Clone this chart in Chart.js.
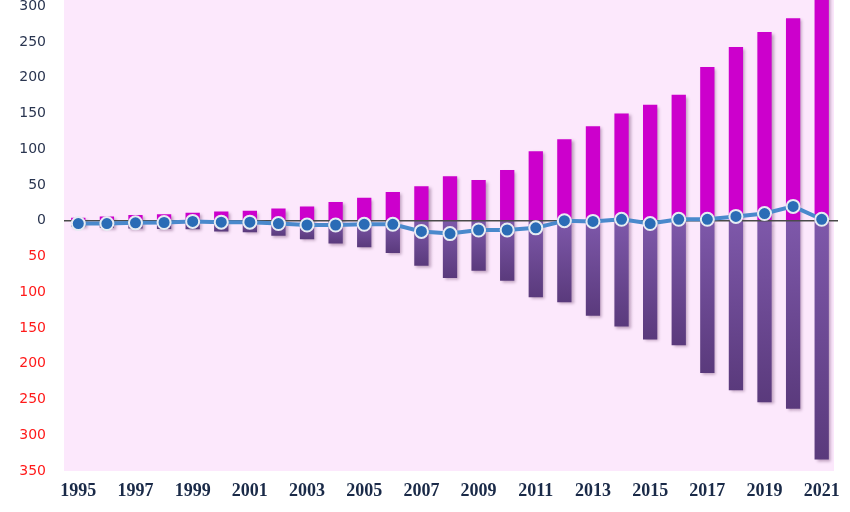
<!DOCTYPE html>
<html>
<head>
<meta charset="utf-8">
<script src="https://cdn.jsdelivr.net/npm/chart.js@4"></script>
<style>
  html, body { margin: 0; padding: 0; background: #ffffff; overflow: hidden; width: 850px; height: 512px; }
  #wrap { position: absolute; left: 0; top: -56px; width: 850px; height: 576px; }
</style>
</head>
<body>
<div id="wrap"><canvas id="c" width="850" height="576"></canvas></div>
<script>
const years = ['1995','1996','1997','1998','1999','2000','2001','2002','2003','2004','2005','2006','2007','2008','2009','2010','2011','2012','2013','2014','2015','2016','2017','2018','2019','2020','2021'];
const positiveValues = [4, 6, 8, 9, 11, 13, 14, 17, 20, 26, 32, 40, 48, 62, 57, 71, 97, 114, 132, 150, 162, 176, 215, 243, 264, 283, 336];
const negativeValues = [-8, -10, -11, -11.5, -12, -15, -16, -21, -26, -32, -37, -45, -63, -80, -70, -84, -107, -114, -133, -148, -166, -174, -213, -237, -254, -263, -334];
const netValues = [-4, -4, -3, -2.5, -1, -2, -2, -4, -6, -6, -5, -5, -15, -18, -13, -13, -10, 0, -1, 2, -4, 2, 2, 6, 10, 20, 2];
const yTickStep = 50;
const yMin = -350, yMax = 350;

const plotBg = {
  id: 'plotBg',
  beforeDraw(chart) {
    const { ctx, chartArea: a } = chart;
    ctx.save();
    ctx.fillStyle = '#fce8fc';
    ctx.fillRect(a.left, a.top, a.right - a.left - 2, a.bottom - a.top);
    ctx.restore();
  },
  beforeDatasetDraw(chart, args) {
    if (args.index < 2) {
      const ctx = chart.ctx;
      ctx.save();
      ctx.shadowColor = 'rgba(70, 20, 70, 0.35)';
      ctx.shadowBlur = 3;
      ctx.shadowOffsetX = 2;
      ctx.shadowOffsetY = 2;
    }
  },
  afterDatasetDraw(chart, args) {
    if (args.index < 2) {
      chart.ctx.restore();
    }
    if (args.index === 1) {
      const { ctx, chartArea: a, scales } = chart;
      const y0 = scales.y.getPixelForValue(0);
      ctx.save();
      ctx.strokeStyle = '#4a4a4a';
      ctx.lineWidth = 1.5;
      ctx.beginPath();
      ctx.moveTo(a.left, y0);
      ctx.lineTo(a.right + 2, y0);
      ctx.stroke();
      ctx.restore();
    }
  }
};

function negGradient(context) {
  const chart = context.chart;
  const { ctx, chartArea, scales } = chart;
  if (!chartArea || context.parsed === undefined) return '#6f4b98';
  const y0 = scales.y.getPixelForValue(0);
  const y1 = scales.y.getPixelForValue(context.parsed.y);
  if (!isFinite(y0) || !isFinite(y1) || Math.abs(y1 - y0) < 1) return '#6f4b98';
  const g = ctx.createLinearGradient(0, y0, 0, y1);
  g.addColorStop(0, '#7e58aa');
  g.addColorStop(1, '#5a3a7c');
  return g;
}

new Chart(document.getElementById('c'), {
  data: {
    labels: years,
    datasets: [
      {
        type: 'bar',
        data: positiveValues,
        backgroundColor: '#cc00cc',
        grouped: false,
        barPercentage: 0.5,
        categoryPercentage: 1.0,
        order: 3
      },
      {
        type: 'bar',
        data: negativeValues,
        backgroundColor: negGradient,
        grouped: false,
        barPercentage: 0.5,
        categoryPercentage: 1.0,
        order: 2
      },
      {
        type: 'line',
        data: netValues,
        borderColor: '#4a89cc',
        borderWidth: 4,
        tension: 0,
        pointRadius: 6.5,
        pointHoverRadius: 6.5,
        pointBackgroundColor: '#2a6cb6',
        pointBorderColor: '#e6ecf2',
        pointBorderWidth: 2,
        order: 1
      }
    ]
  },
  options: {
    responsive: false,
    animation: false,
    events: [],
    layout: { padding: { top: 12, right: 14, left: 0, bottom: 0 } },
    plugins: { legend: { display: false }, tooltip: { enabled: false } },
    scales: {
      x: {
        offset: true,
        grid: { display: false, drawTicks: false },
        border: { display: false },
        afterFit(scale) { scale.height = 49; },
        ticks: {
          autoSkip: false,
          maxRotation: 0,
          padding: 10,
          color: '#1a2a48',
          font: { family: '"Liberation Serif", "Times New Roman", serif', size: 18, weight: 'bold' },
          callback(value, index) { return index % 2 === 0 ? years[index] : ''; }
        }
      },
      y: {
        min: yMin,
        max: yMax,
        grid: { display: false, drawTicks: false },
        border: { display: false },
        afterFit(scale) { scale.width = 64; },
        ticks: {
          stepSize: yTickStep,
          padding: 18,
          color(ctx) { return ctx.tick && ctx.tick.value < 0 ? '#ff1a1a' : '#2a3550'; },
          font: { family: '"DejaVu Sans", sans-serif', size: 14 },
          callback(value) { return Math.abs(value); }
        }
      }
    }
  },
  plugins: [plotBg]
});
</script>
</body>
</html>
